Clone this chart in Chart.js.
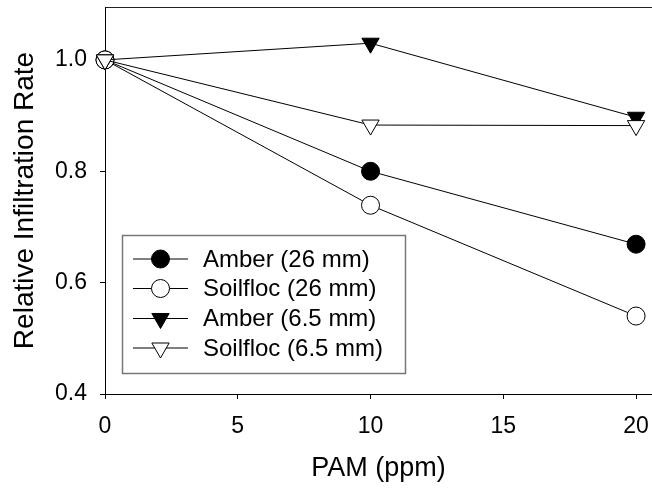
<!DOCTYPE html>
<html><head><meta charset="utf-8">
<script src="https://cdn.jsdelivr.net/npm/chart.js@4/dist/chart.umd.min.js"></script>
<style>html,body{margin:0;padding:0;background:#fff;overflow:hidden}</style>
</head><body>
<canvas id="c" width="652" height="489"></canvas>
<script>
const pam = [0, 10, 20];
const amber26 = [1.0, 0.80, 0.669];
const soilfloc26 = [1.0, 0.739, 0.540];
const amber65 = [1.0, 1.030, 0.897];
const soilfloc65 = [1.0, 0.883, 0.882];
const seriesNames = ['Amber (26 mm)', 'Soilfloc (26 mm)', 'Amber (6.5 mm)', 'Soilfloc (6.5 mm)'];
const xTicks = [0, 5, 10, 15, 20];
const yTicks = [0.4, 0.6, 0.8, 1.0];
const xTitle = 'PAM (ppm)';
const yTitle = 'Relative Infiltration Rate';

const FONT = "'Liberation Sans', Arial, sans-serif";
const pts = arr => pam.map((x, i) => ({x: x, y: arr[i]}));

function ds(label, arr, style, fill, radius, rotation, order) {
  return {
    label: label, data: pts(arr), showLine: true, borderColor: '#000', borderWidth: 1,
    pointStyle: style, pointRadius: radius, pointRotation: rotation,
    pointBackgroundColor: fill, pointBorderColor: '#000', pointBorderWidth: 1,
    tension: 0, clip: false, order: order
  };
}

function noPad(s) { s.paddingLeft = 0; s.paddingRight = 0; s.paddingTop = 0; s.paddingBottom = 0; }

const legendPlugin = {
  id: 'boxLegend',
  afterDraw(chart) {
    const ctx = chart.ctx;
    ctx.save();
    ctx.strokeStyle = '#777';
    ctx.lineWidth = 1.5;
    ctx.strokeRect(122.5, 235.5, 283, 138);
    const rows = [259, 288.5, 318.5, 348];
    chart.data.datasets.forEach((d, i) => {
      const y = rows[i];
      ctx.strokeStyle = '#000';
      ctx.lineWidth = 1;
      ctx.beginPath(); ctx.moveTo(133, y); ctx.lineTo(188, y); ctx.stroke();
      ctx.fillStyle = d.pointBackgroundColor;
      ctx.strokeStyle = '#000';
      Chart.helpers.drawPoint(ctx, {pointStyle: d.pointStyle, radius: d.pointRadius, rotation: d.pointRotation, borderWidth: 1}, 160.5, y);
      ctx.fillStyle = '#000';
      ctx.font = '24px ' + FONT;
      ctx.textBaseline = 'middle';
      ctx.textAlign = 'left';
      ctx.fillText(d.label, 203, y + 1);
    });
    ctx.restore();
  }
};

new Chart(document.getElementById('c'), {
  type: 'scatter',
  data: {
    datasets: [
      ds(seriesNames[0], amber26, 'circle', '#000', 9, 0, 4),
      ds(seriesNames[1], soilfloc26, 'circle', '#fff', 9, 0, 3),
      ds(seriesNames[2], amber65, 'triangle', '#000', 10, 180, 2),
      ds(seriesNames[3], soilfloc65, 'triangle', '#fff', 10, 180, 1)
    ]
  },
  options: {
    responsive: false, animation: false, events: [],
    layout: {autoPadding: false, padding: {top: 7, right: 0, left: 0, bottom: 0}},
    plugins: {legend: {display: false}, tooltip: {enabled: false}},
    scales: {
      x: {
        type: 'linear', position: 'bottom', min: 0, max: 20.6,
        afterBuildTicks: s => { s.ticks = xTicks.map(v => ({value: v})); },
        afterFit: s => { s.height = 95; noPad(s); },
        grid: {drawOnChartArea: false, drawTicks: true, tickLength: 5, color: '#000'},
        border: {display: true, color: '#000', width: 1},
        ticks: {color: '#000', font: {family: FONT, size: 23}, padding: 14, maxRotation: 0},
        title: {display: true, text: xTitle, color: '#000', font: {family: FONT, size: 27}, padding: {top: 0, bottom: 4}}
      },
      x2: {
        type: 'linear', position: 'top', min: 0, max: 20.6,
        grid: {display: false, drawTicks: false},
        border: {display: true, color: '#222', width: 1},
        ticks: {display: false},
        afterFit: s => { s.height = 0; noPad(s); }
      },
      y: {
        type: 'linear', position: 'left', min: 0.4, max: 1.095,
        afterBuildTicks: s => { s.ticks = yTicks.map(v => ({value: v})); },
        afterFit: s => { s.width = 105; noPad(s); },
        grid: {drawOnChartArea: false, drawTicks: true, tickLength: 5, color: '#000'},
        border: {display: true, color: '#000', width: 1},
        ticks: {color: '#000', font: {family: FONT, size: 23}, padding: 13, callback: v => v.toFixed(1)},
        title: {display: true, text: yTitle, color: '#000', font: {family: FONT, size: 28}, padding: {top: 8, bottom: 0}}
      }
    }
  },
  plugins: [legendPlugin]
});
</script>
</body></html>
